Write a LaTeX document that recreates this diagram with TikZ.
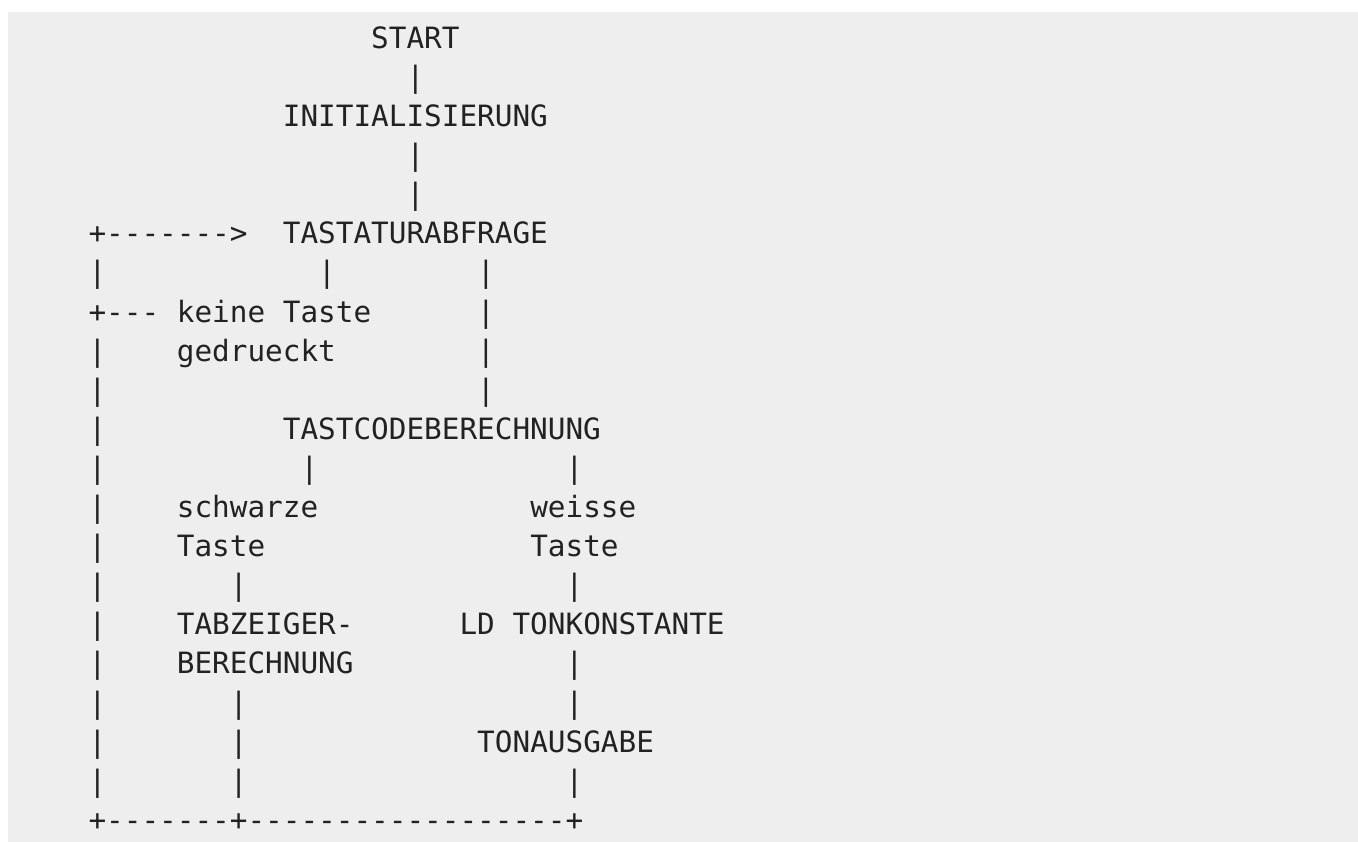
\documentclass[tikz,border=0pt]{standalone}
\usepackage{fontspec}
\newfontfamily\codefont{DejaVu Sans Mono}[Ligatures=TeXOff]
\definecolor{codebg}{HTML}{EEEEEE}
\definecolor{codefg}{HTML}{222222}
\tikzset{
    txt/.style={anchor=base west, inner sep=0pt, outer sep=0pt, text=codefg,
        font=\codefont\fontsize{29.35}{39.1}\selectfont},
}

\begin{document}
\begin{tikzpicture}[x=17.67pt, y=-39.1pt]
    % one unit = one character cell, one line
    \useasboundingbox (-5.0085,-1.2353) rectangle (71.845,20.299);
    \fill[codebg] (-4.556,-0.9284) rectangle (71.845,20.299);

    \node[txt] at (16, 0)(start){START};
    \node[txt] at (11, 2)(init){INITIALISIERUNG};
    \node[txt] at (11, 5)(abfrage){TASTATURABFRAGE};
    \node[txt] at (5, 7)(keine){keine Taste};
    \node[txt] at (5, 8)(gedrueckt){gedrueckt};
    \node[txt] at (11, 10)(tastcode){TASTCODEBERECHNUNG};
    \node[txt] at (5, 12)(schwarz){schwarze};
    \node[txt] at (5, 13)(schwarzt){Taste};
    \node[txt] at (25, 12)(weiss){weisse};
    \node[txt] at (25, 13)(weisst){Taste};
    \node[txt] at (5, 15)(tabzeiger){TABZEIGER-};
    \node[txt] at (5, 16)(tabber){BERECHNUNG};
    \node[txt] at (21, 15)(ldton){LD TONKONSTANTE};
    \node[txt] at (22, 18)(tonaus){TONAUSGABE};

    % loop back to the keyboard query
    \node[txt] at (0, 5)(loopin){+------->};
    \node[txt] at (0, 7)(loopout){+---};
    \node[txt] at (0, 20)(bottom){+-------+------------------+};

    % vertical strokes
    \foreach \r in {6,8,9,...,19}
        \node[txt] at (0, \r)(left-\r){|};
    \foreach \c/\r in {18/1, 18/3, 18/4, 13/6, 22/6, 22/7, 22/8, 22/9,
                       12/11, 27/11, 8/14, 27/14, 27/16, 8/17, 27/17,
                       8/18, 8/19, 27/19}
        \node[txt] at (\c, \r)(bar-\c-\r){|};
\end{tikzpicture}
\end{document}
